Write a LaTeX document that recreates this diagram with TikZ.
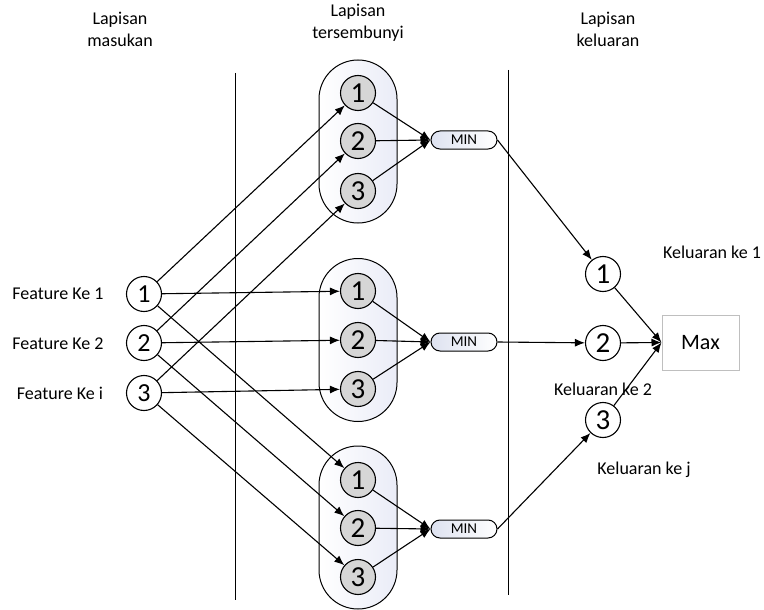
\documentclass[tikz,border=0pt]{standalone}
\usepackage{fontspec}
\setmainfont{Carlito}
\usetikzlibrary{arrows.meta}
\begin{document}
\begin{tikzpicture}[x=1pt,y=-1pt,
  lbl/.style={font=\fontsize{18}{22}\selectfont, inner sep=0pt, align=center},
  inn/.style={circle, draw, line width=1.1pt, fill=white, minimum size=35pt, inner sep=0pt, font=\fontsize{26}{26}\selectfont},
  hid/.style={inn, fill=black!16, font=\fontsize{29}{29}\selectfont},
  outn/.style={inn, font=\fontsize{29}{29}\selectfont},
  capsule/.style={draw, line width=1pt, minimum width=78pt, minimum height=163pt, rounded corners=39pt, inner sep=0pt,
    left color=white, right color={rgb,255:red,234;green,236;blue,247}},
  minbox/.style={draw, line width=1pt, minimum width=66pt, minimum height=18pt, rounded corners=9pt, inner sep=0pt,
    left color={rgb,255:red,222;green,226;blue,240}, right color=white, font=\fontsize{15}{15}\selectfont},
  maxbox/.style={draw=black!25, line width=1pt, fill=white, minimum width=77pt, minimum height=55pt, inner sep=0pt, font=\fontsize{22}{22}\selectfont},
  arr/.style={-{Latex[length=10pt,width=8pt]}, line width=1.1pt},
  ln/.style={line width=0.8pt}
]
\useasboundingbox (0,0) rectangle (764,610);

% layer titles
\node[lbl] (t1) at (120,29) {Lapisan\\masukan};
\node[lbl] (t2) at (358,23) {Lapisan\\tersembunyi};
\node[lbl] (t3) at (608,29) {Lapisan\\keluaran};

% layer separators
\coordinate (s1a) at (235,73);  \coordinate (s1b) at (235,600);
\coordinate (s2a) at (508,70);  \coordinate (s2b) at (508,595);
\draw[ln] (s1a) -- (s1b);
\draw[ln] (s2a) -- (s2b);

% hidden groups
\node[capsule] (c1) at (358,141.5) {};
\node[capsule] (c2) at (358,340) {};
\node[capsule] (c3) at (358,527.5) {};

\node[hid] (h11) at (358,93)  {1};
\node[hid] (h12) at (358,141) {2};
\node[hid] (h13) at (358,191) {3};
\node[hid] (h21) at (358,291) {1};
\node[hid] (h22) at (358,340) {2};
\node[hid] (h23) at (358,389) {3};
\node[hid] (h31) at (358,480) {1};
\node[hid] (h32) at (358,528) {2};
\node[hid] (h33) at (358,577) {3};

\node[minbox] (m1) at (464,140) {MIN};
\node[minbox] (m2) at (464,342) {MIN};
\node[minbox] (m3) at (464,529) {MIN};

% inputs
\node[inn] (i1) at (144,294) {1};
\node[inn] (i2) at (144,343) {2};
\node[inn] (i3) at (144,393) {3};
\node[lbl] (f1) at (58,294) {Feature Ke 1};
\node[lbl] (f2) at (58,344) {Feature Ke 2};
\node[lbl] (f3) at (60,393) {Feature Ke i};

% outputs
\node[outn] (o1) at (603,274) {1};
\node[outn] (o2) at (603,343) {2};
\node[outn] (o3) at (603,420) {3};
\node[maxbox] (mx) at (700.5,342.5) {Max};
\node[lbl] (k1) at (712,252) {Keluaran ke 1};
\node[lbl] (k2) at (603,389) {Keluaran ke 2};
\node[lbl] (k3) at (644,470) {Keluaran ke j};

% input -> hidden
\foreach \a in {1,2,3}{
  \draw[arr] (i\a) -- (h1\a);
  \draw[arr] (i\a) -- (h2\a);
  \draw[arr] (i\a) -- (h3\a);
}
% hidden -> MIN
\foreach \g in {1,2,3}{
  \foreach \a in {1,2,3}{
    \draw[arr] (h\g\a) -- (m\g.west);
  }
}
% MIN -> outputs
\draw[arr] (m1.east) -- (o1);
\draw[arr] (m2.east) -- (o2);
\draw[arr] (m3.east) -- (o3);
% outputs -> Max
\draw[arr] (o1) -- (mx.west);
\draw[arr] (o2) -- (mx.west);
\draw[arr] (o3) -- (mx.west);
\end{tikzpicture}
\end{document}
